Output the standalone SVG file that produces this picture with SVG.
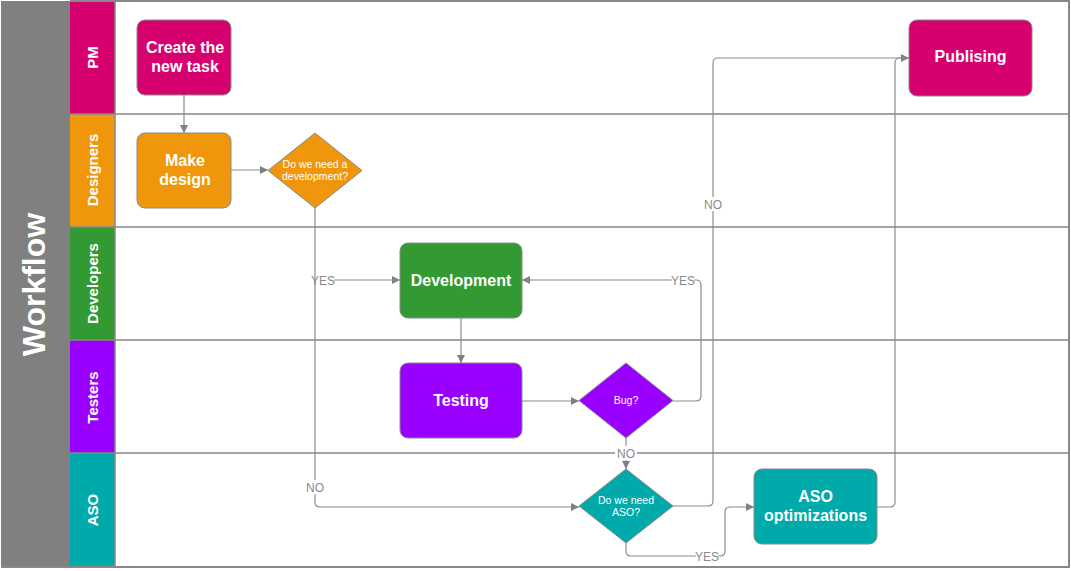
<svg xmlns="http://www.w3.org/2000/svg" width="1071" height="571" viewBox="0 0 1071 571">
<style>
.lane{stroke:#888;stroke-width:1.5;fill:none}
.node{stroke:#8a8a8a;stroke-width:1}
.nt{font-family:"Liberation Sans",Arial,sans-serif;font-weight:bold;font-size:16px;fill:#fff;text-anchor:middle}
.dt{font-family:"Liberation Sans",Arial,sans-serif;font-size:10.5px;fill:#fff;text-anchor:middle}
.lt{font-family:"Liberation Sans",Arial,sans-serif;font-weight:bold;font-size:15px;fill:#fff;text-anchor:middle}
.cl{font-family:"Liberation Sans",Arial,sans-serif;font-size:12px;fill:#8a8a8a;text-anchor:middle}
.c{fill:none;stroke:#8c8c8c;stroke-width:1.2}
.a{marker-end:url(#ah)}
</style>
<defs>
<marker id="ah" viewBox="0 0 10 10" refX="10" refY="5" markerWidth="8" markerHeight="8" markerUnits="userSpaceOnUse" orient="auto">
<path d="M0,0 L10,5 L0,10 z" fill="#808080"/>
</marker>
</defs>
<rect x="0" y="0" width="1071" height="571" fill="#fff"/>
<g id="pool">
<rect x="1" y="1" width="69" height="566" fill="#808080"/>
<text x="45" y="284.5" transform="rotate(-90 45 284.5)" style="font-family:'Liberation Sans',Arial,sans-serif;font-weight:bold;font-size:32px;fill:#fff;text-anchor:middle">Workflow</text>
</g>
<g id="lanes">
<rect x="70" y="1" width="45" height="113" fill="#d6006f"/>
<rect x="70" y="114" width="45" height="113" fill="#f0960d"/>
<rect x="70" y="227" width="45" height="113" fill="#339933"/>
<rect x="70" y="340" width="45" height="113" fill="#9900ff"/>
<rect x="70" y="453" width="45" height="114" fill="#00aaaa"/>
<text class="lt" x="97.5" y="57.5" transform="rotate(-90 97.5 57.5)">PM</text>
<text class="lt" x="97.5" y="170" transform="rotate(-90 97.5 170)">Designers</text>
<text class="lt" x="97.5" y="283.5" transform="rotate(-90 97.5 283.5)">Developers</text>
<text class="lt" x="97.5" y="397.5" transform="rotate(-90 97.5 397.5)">Testers</text>
<text class="lt" x="97.5" y="510" transform="rotate(-90 97.5 510)">ASO</text>
<path class="lane" d="M70,114 H1069 M70,227 H1069 M70,340 H1069 M70,453 H1069 M115,1 V567"/>
<path d="M70,1 H1069 V567 H1 " fill="none" stroke="#888" stroke-width="2"/>
</g>
<g id="connectors">
<path class="c a" d="M184,95 V133"/>
<path class="c a" d="M231,170 H268"/>
<path class="c a" d="M315,208 V502 Q315,507 320,507 H579"/>
<path class="c a" d="M334,280 H400"/>
<path class="c a" d="M461,318 V363"/>
<path class="c a" d="M522,401 H579"/>
<path class="c a" d="M673,401 H696 Q701,401 701,396 V285 Q701,280 696,280 H522"/>
<path class="c a" d="M626,438 V469"/>
<path class="c a" d="M673,506 H708 Q713,506 713,501 V63 Q713,58 718,58 H909"/>
<path class="c a" d="M626,543 V551 Q626,556 631,556 H720 Q725,556 725,551 V512 Q725,507 730,507 H754"/>
<path class="c" d="M877,507 H890 Q895,507 895,502 V63 Q895,58 900,58 H905"/>
</g>
<g id="labels">
<text class="cl" x="323" y="284.5">YES</text>
<rect x="304" y="480" width="22" height="14" fill="#fff"/>
<text class="cl" x="315" y="491.5">NO</text>
<rect x="672" y="273" width="22" height="14" fill="#fff"/>
<text class="cl" x="683" y="284.5">YES</text>
<rect x="615" y="446" width="22" height="14" fill="#fff"/>
<text class="cl" x="626" y="457.5">NO</text>
<rect x="702" y="197" width="22" height="14" fill="#fff"/>
<text class="cl" x="713" y="208.5">NO</text>
<rect x="696" y="549" width="22" height="14" fill="#fff"/>
<text class="cl" x="707" y="560.5">YES</text>
</g>
<g id="create-task">
<rect class="node" x="137" y="20" width="94" height="75" rx="8" fill="#d6006f"/>
<text class="nt" x="185" y="53">Create the</text>
<text class="nt" x="185" y="72">new task</text>
</g>
<g id="make-design">
<rect class="node" x="137" y="133" width="94" height="75" rx="8" fill="#f0960d"/>
<text class="nt" x="185" y="166">Make</text>
<text class="nt" x="185" y="185">design</text>
</g>
<g id="need-dev">
<polygon class="node" points="315,133 362,170.5 315,208 268,170.5" fill="#f0960d"/>
<text class="dt" x="315" y="168">Do we need a</text>
<text class="dt" x="315" y="180">development?</text>
</g>
<g id="development">
<rect class="node" x="400" y="243" width="122" height="75" rx="8" fill="#339933"/>
<text class="nt" x="461" y="285.5">Development</text>
</g>
<g id="testing">
<rect class="node" x="400" y="363" width="122" height="75" rx="8" fill="#9900ff"/>
<text class="nt" x="461" y="406">Testing</text>
</g>
<g id="bug">
<polygon class="node" points="626,363 673,400.5 626,438 579,400.5" fill="#9900ff"/>
<text class="dt" x="626" y="404">Bug?</text>
</g>
<g id="need-aso">
<polygon class="node" points="626,469 673,506 626,543 579,506" fill="#00aaaa"/>
<text class="dt" x="626" y="504">Do we need</text>
<text class="dt" x="626" y="516">ASO?</text>
</g>
<g id="aso-opt">
<rect class="node" x="754" y="469" width="123" height="75" rx="8" fill="#00aaaa"/>
<text class="nt" x="815.5" y="502">ASO</text>
<text class="nt" x="815.5" y="521">optimizations</text>
</g>
<g id="publishing">
<rect class="node" x="909" y="20" width="123" height="76" rx="8" fill="#d6006f"/>
<text class="nt" x="970.5" y="62">Publising</text>
</g>
</svg>
